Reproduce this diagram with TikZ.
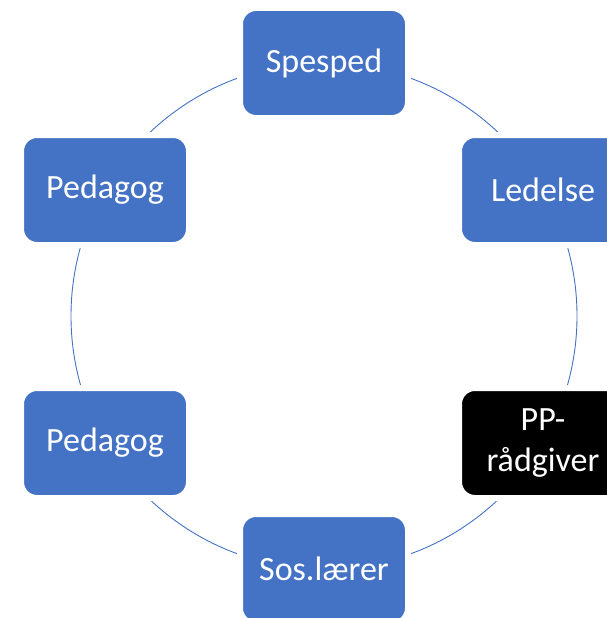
\documentclass[tikz,border=0pt]{standalone}
\usepackage{fontspec}
\setmainfont{Carlito}
\definecolor{boxblue}{HTML}{4472C4}
\tikzset{
  cyc/.style={rounded corners=16pt, minimum width=168pt, minimum height=110pt,
    fill=boxblue, draw=white, line width=6pt, text=white, align=center,
    font=\fontsize{34}{41}\selectfont, inner sep=0pt},
  ring/.style={draw=boxblue, line width=0.9pt}
}
\begin{document}
\begin{tikzpicture}[x=1pt,y=-1pt]
\useasboundingbox (0,0) rectangle (606,618);
\coordinate (c) at (324,316);
\draw[ring] (c) circle[radius=253];
\node[cyc] (spesped) at (324,63) {Spesped};
\node[cyc] (ledelse) at (543,190) {Ledelse};
\node[cyc, fill=black] (pp) at (543,443) {PP-\\rådgiver};
\node[cyc] (sos) at (324,569) {Sos.lærer};
\node[cyc] (ped2) at (105,443) {Pedagog};
\node[cyc] (ped1) at (105,190) {Pedagog};
\end{tikzpicture}
\end{document}
